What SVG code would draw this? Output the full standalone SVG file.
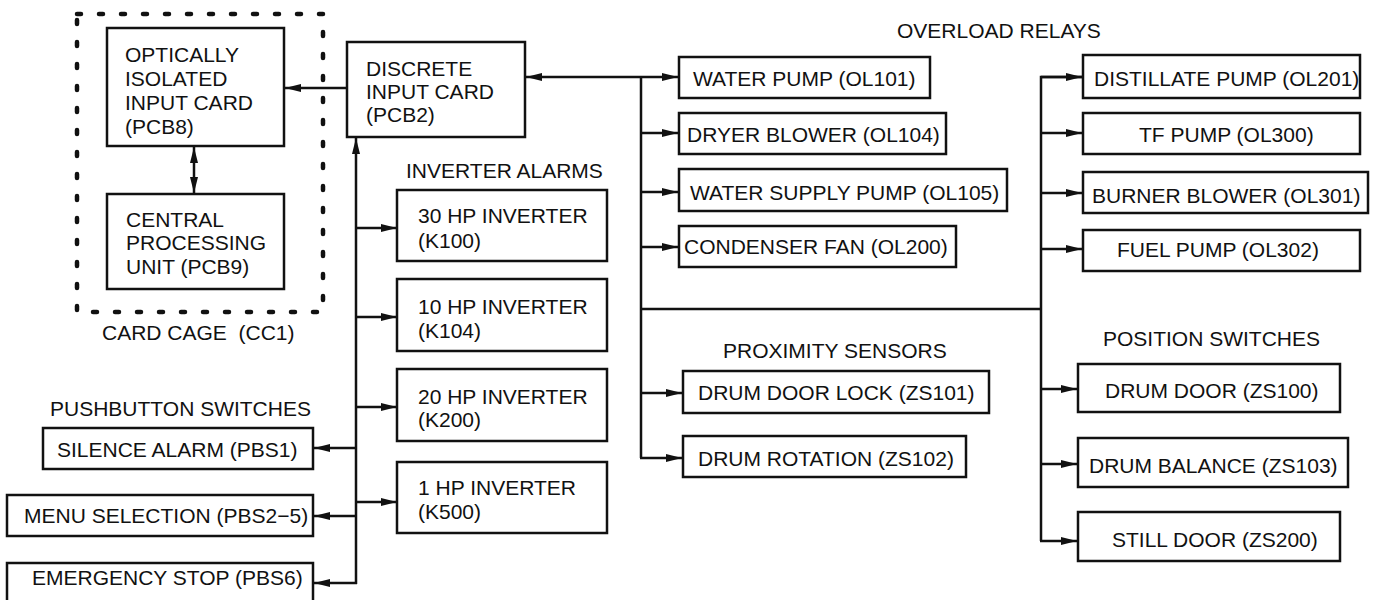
<svg xmlns="http://www.w3.org/2000/svg" width="1380" height="600" viewBox="0 0 1380 600">
<style>
text{font-family:"Liberation Sans",Arial,sans-serif;font-size:21px;fill:#111}
.box{fill:#fff;stroke:#111;stroke-width:2.5}
.ln{fill:none;stroke:#111;stroke-width:2.5}
.cage{fill:none;stroke:#111;stroke-width:4.5;stroke-dasharray:4 18;stroke-linecap:round}
.lbl{white-space:pre}
</style>
<defs>
<marker id="ah" viewBox="0 0 16 8" refX="16" refY="4" markerWidth="16" markerHeight="8" markerUnits="userSpaceOnUse" orient="auto-start-reverse">
<path d="M0,0 L16,4 L0,8 z" fill="#111"/>
</marker>
</defs>
<rect width="1380" height="600" fill="#fff"/>

<g id="connectors">
<line class="ln" x1="347" y1="88" x2="285" y2="88" marker-end="url(#ah)"/>
<line class="ln" x1="194" y1="147" x2="194" y2="193" marker-start="url(#ah)" marker-end="url(#ah)"/>
<line class="ln" x1="356" y1="584" x2="356" y2="138" marker-end="url(#ah)"/>
<line class="ln" x1="356" y1="228" x2="397" y2="228" marker-end="url(#ah)"/>
<line class="ln" x1="356" y1="317" x2="397" y2="317" marker-end="url(#ah)"/>
<line class="ln" x1="356" y1="407" x2="397" y2="407" marker-end="url(#ah)"/>
<line class="ln" x1="356" y1="502" x2="397" y2="502" marker-end="url(#ah)"/>
<line class="ln" x1="356" y1="448" x2="314" y2="448" marker-end="url(#ah)"/>
<line class="ln" x1="356" y1="516" x2="314" y2="516" marker-end="url(#ah)"/>
<line class="ln" x1="357" y1="583" x2="314" y2="583" marker-end="url(#ah)"/>
<line class="ln" x1="526" y1="77" x2="678" y2="77" marker-start="url(#ah)" marker-end="url(#ah)"/>
<line class="ln" x1="641" y1="77" x2="641" y2="458"/>
<line class="ln" x1="641" y1="133" x2="678" y2="133" marker-end="url(#ah)"/>
<line class="ln" x1="641" y1="192" x2="678" y2="192" marker-end="url(#ah)"/>
<line class="ln" x1="641" y1="247" x2="678" y2="247" marker-end="url(#ah)"/>
<line class="ln" x1="641" y1="393" x2="682" y2="393" marker-end="url(#ah)"/>
<line class="ln" x1="640" y1="458" x2="682" y2="458" marker-end="url(#ah)"/>
<line class="ln" x1="641" y1="309" x2="1041" y2="309"/>
<path class="ln" d="M1082,77 L1041,77 L1041,541"/>
<line class="ln" x1="1041" y1="77" x2="1082" y2="77" marker-end="url(#ah)"/>
<line class="ln" x1="1041" y1="133" x2="1082" y2="133" marker-end="url(#ah)"/>
<line class="ln" x1="1041" y1="193" x2="1082" y2="193" marker-end="url(#ah)"/>
<line class="ln" x1="1041" y1="249" x2="1082" y2="249" marker-end="url(#ah)"/>
<line class="ln" x1="1041" y1="389" x2="1077" y2="389" marker-end="url(#ah)"/>
<line class="ln" x1="1041" y1="464" x2="1077" y2="464" marker-end="url(#ah)"/>
<line class="ln" x1="1040" y1="541" x2="1077" y2="541" marker-end="url(#ah)"/>
</g>

<g id="card-cage">
<rect class="cage" x="77" y="14" width="246" height="298"/>
<text class="lbl" x="102" y="340">CARD CAGE  (CC1)</text>
</g>

<g id="optically-isolated">
<rect class="box" x="107" y="28" width="177" height="118"/>
<text x="125" y="62">OPTICALLY</text>
<text x="125" y="86">ISOLATED</text>
<text x="125" y="110">INPUT CARD</text>
<text x="125" y="134">(PCB8)</text>
</g>

<g id="cpu">
<rect class="box" x="107" y="194" width="177" height="95"/>
<text x="126" y="227">CENTRAL</text>
<text x="126" y="250">PROCESSING</text>
<text x="126" y="274">UNIT (PCB9)</text>
</g>

<g id="discrete-input">
<rect class="box" x="347" y="42" width="178" height="95"/>
<text x="366" y="76">DISCRETE</text>
<text x="366" y="99">INPUT CARD</text>
<text x="366" y="122">(PCB2)</text>
</g>

<g id="labels">
<text x="897" y="38">OVERLOAD RELAYS</text>
<text x="406" y="178">INVERTER ALARMS</text>
<text x="50" y="416">PUSHBUTTON SWITCHES</text>
<text x="723" y="358">PROXIMITY SENSORS</text>
<text x="1103" y="346">POSITION SWITCHES</text>
</g>

<g id="inv-30">
<rect class="box" x="397" y="190" width="210" height="71"/>
<text x="418" y="223">30 HP INVERTER</text>
<text x="418" y="248">(K100)</text>
</g>
<g id="inv-10">
<rect class="box" x="397" y="279" width="210" height="72"/>
<text x="418" y="314">10 HP INVERTER</text>
<text x="418" y="338">(K104)</text>
</g>
<g id="inv-20">
<rect class="box" x="397" y="369" width="210" height="72"/>
<text x="418" y="404">20 HP INVERTER</text>
<text x="418" y="427">(K200)</text>
</g>
<g id="inv-1">
<rect class="box" x="397" y="462" width="210" height="71"/>
<text x="418" y="495">1 HP INVERTER</text>
<text x="418" y="519">(K500)</text>
</g>

<g id="pbs1">
<rect class="box" x="43" y="428" width="270" height="41"/>
<text x="57" y="457">SILENCE ALARM (PBS1)</text>
</g>
<g id="pbs2-5">
<rect class="box" x="7" y="495" width="306" height="41"/>
<text x="24" y="523">MENU SELECTION (PBS2−5)</text>
</g>
<g id="pbs6">
<rect class="box" x="7" y="563" width="306" height="45"/>
<text x="32" y="585">EMERGENCY STOP (PBS6)</text>
</g>

<g id="ol101">
<rect class="box" x="679" y="57" width="251" height="41"/>
<text x="693" y="86">WATER PUMP (OL101)</text>
</g>
<g id="ol104">
<rect class="box" x="679" y="113" width="267" height="41"/>
<text x="687" y="142">DRYER BLOWER (OL104)</text>
</g>
<g id="ol105">
<rect class="box" x="679" y="169" width="328" height="42"/>
<text x="690" y="200">WATER SUPPLY PUMP (OL105)</text>
</g>
<g id="ol200">
<rect class="box" x="679" y="226" width="277" height="41"/>
<text x="684" y="254">CONDENSER FAN (OL200)</text>
</g>

<g id="ol201">
<rect class="box" x="1083" y="55" width="277" height="43"/>
<text x="1094" y="86">DISTILLATE PUMP (OL201)</text>
</g>
<g id="ol300">
<rect class="box" x="1083" y="113" width="277" height="41"/>
<text x="1139" y="142">TF PUMP (OL300)</text>
</g>
<g id="ol301">
<rect class="box" x="1083" y="172" width="285" height="41"/>
<text x="1092" y="203">BURNER BLOWER (OL301)</text>
</g>
<g id="ol302">
<rect class="box" x="1083" y="230" width="277" height="41"/>
<text x="1117" y="257">FUEL PUMP (OL302)</text>
</g>

<g id="zs101">
<rect class="box" x="683" y="371" width="306" height="42"/>
<text x="698" y="400">DRUM DOOR LOCK (ZS101)</text>
</g>
<g id="zs102">
<rect class="box" x="683" y="436" width="283" height="41"/>
<text x="698" y="466">DRUM ROTATION (ZS102)</text>
</g>

<g id="zs100">
<rect class="box" x="1078" y="364" width="262" height="48"/>
<text x="1105" y="398">DRUM DOOR (ZS100)</text>
</g>
<g id="zs103">
<rect class="box" x="1078" y="438" width="270" height="49"/>
<text x="1089" y="473">DRUM BALANCE (ZS103)</text>
</g>
<g id="zs200">
<rect class="box" x="1078" y="512" width="262" height="49"/>
<text x="1112" y="547">STILL DOOR (ZS200)</text>
</g>
</svg>
